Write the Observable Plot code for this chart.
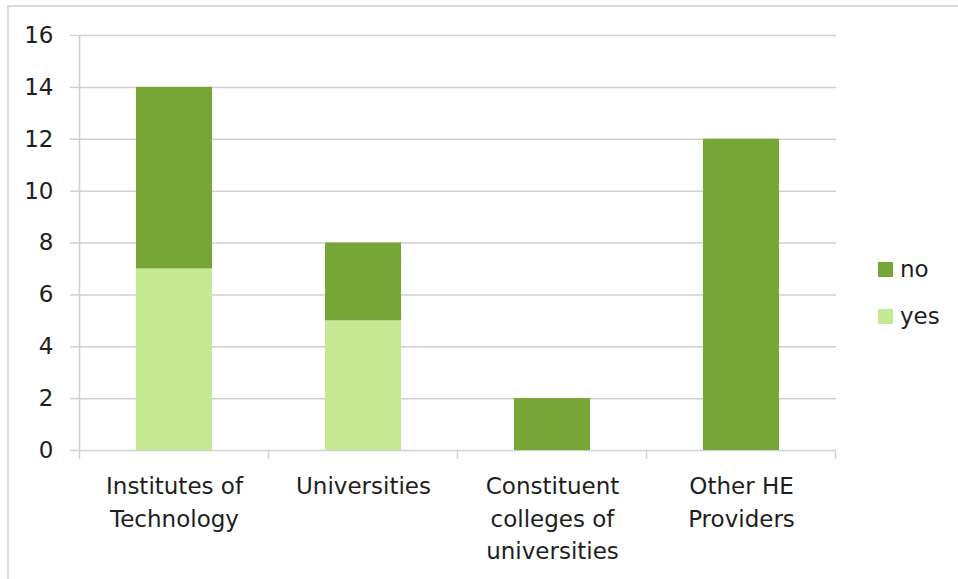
<!DOCTYPE html>
<html>
<head>
<meta charset="utf-8">
<script src="https://cdn.jsdelivr.net/npm/d3@7"></script>
<script src="https://cdn.jsdelivr.net/npm/@observablehq/plot@0.6"></script>
<style>
html, body { margin: 0; padding: 0; background: #fff; }
#wrap { position: relative; width: 958px; height: 579px; overflow: hidden; font-family: "DejaVu Sans", sans-serif; color: #1e1e1e; }
#frame { position: absolute; left: 7px; top: 5px; right: -10px; bottom: -10px; border-top: 2px solid #d9d9d9; border-left: 2px solid #d9d9d9; pointer-events: none; }
#chart { position: absolute; left: 0; top: 0; }
.leg { position: absolute; left: 878px; display: flex; align-items: center; font-size: 23px; line-height: 1; }
.leg .sw { width: 15px; height: 15px; margin-right: 7px; display: inline-block; }
</style>
</head>
<body>
<div id="wrap">
  <div id="frame"></div>
  <div id="chart"></div>
</div>
<script>
const categories = ["Institutes of Technology", "Universities", "Constituent colleges of universities", "Other HE Providers"];
const tickLabels = ["Institutes of\nTechnology", "Universities", "Constituent\ncolleges of\nuniversities", "Other HE\nProviders"];
const yesValues = [7, 5, 0, 0];
const noValues = [7, 3, 2, 12];
const seriesNames = ["yes", "no"];
const seriesColors = ["#c6e994", "#77a636"];
const yTicks = [0, 2, 4, 6, 8, 10, 12, 14, 16];
const legendOrder = ["no", "yes"];

const table = [];
categories.forEach((c, i) => {
  table.push({category: c, series: "yes", value: yesValues[i]});
  table.push({category: c, series: "no", value: noValues[i]});
});

const gridColor = "#d0d0d0";

function bandFrame(index, scales) {
  const x = scales.x, y = scales.y;
  const bw = typeof x.bandwidth === "function" ? x.bandwidth() : x.bandwidth;
  const step = x(categories[1]) - x(categories[0]);
  const half = (step - bw) / 2;
  const edges = categories.map(c => x(c) - half).concat([x(categories[categories.length - 1]) + bw + half]);
  const y0 = y(0), yTop = y(yTicks[yTicks.length - 1]);
  const g = d3.create("svg:g").attr("stroke", gridColor).attr("stroke-width", 1.5);
  g.selectAll("line.t").data(edges).join("line")
    .attr("x1", d => d).attr("x2", d => d).attr("y1", y0).attr("y2", y0 + 9);
  g.append("line").attr("x1", edges[0]).attr("x2", edges[0]).attr("y1", yTop).attr("y2", y0);
  return g.node();
}

const plot = Plot.plot({
  width: 958,
  height: 579,
  marginLeft: 79,
  marginRight: 122,
  marginTop: 35,
  marginBottom: 129,
  style: {fontFamily: "DejaVu Sans, sans-serif", fontSize: "23px", color: "#1e1e1e", background: "transparent"},
  x: {domain: categories, paddingInner: 0.6, paddingOuter: 0.3, label: null},
  y: {domain: [0, 16], label: null},
  color: {domain: seriesNames, range: seriesColors},
  marks: [
    Plot.gridY(yTicks, {stroke: gridColor, strokeOpacity: 1, strokeWidth: 1.5}),
    Plot.barY(table, {x: "category", y: "value", fill: "series", order: seriesNames}),
    Plot.axisY(yTicks, {tickSize: 9, tickPadding: 17, stroke: gridColor, strokeWidth: 1.5, fill: "#1e1e1e", fontSize: 23, label: null}),
    Plot.axisX({tickSize: 0, tickPadding: 21, fill: "#1e1e1e", fontSize: 23, lineHeight: 1.4, lineAnchor: "top",
      tickFormat: d => tickLabels[categories.indexOf(d)], label: null}),
    bandFrame
  ]
});
document.getElementById("chart").appendChild(plot);

const wrap = document.getElementById("wrap");
const legendTops = {no: 258, yes: 305};
legendOrder.forEach(name => {
  const item = document.createElement("div");
  item.className = "leg";
  item.style.top = legendTops[name] + "px";
  const sw = document.createElement("span");
  sw.className = "sw";
  sw.style.background = seriesColors[seriesNames.indexOf(name)];
  const t = document.createElement("span");
  t.textContent = name;
  item.appendChild(sw);
  item.appendChild(t);
  wrap.appendChild(item);
});
</script>
</body>
</html>
